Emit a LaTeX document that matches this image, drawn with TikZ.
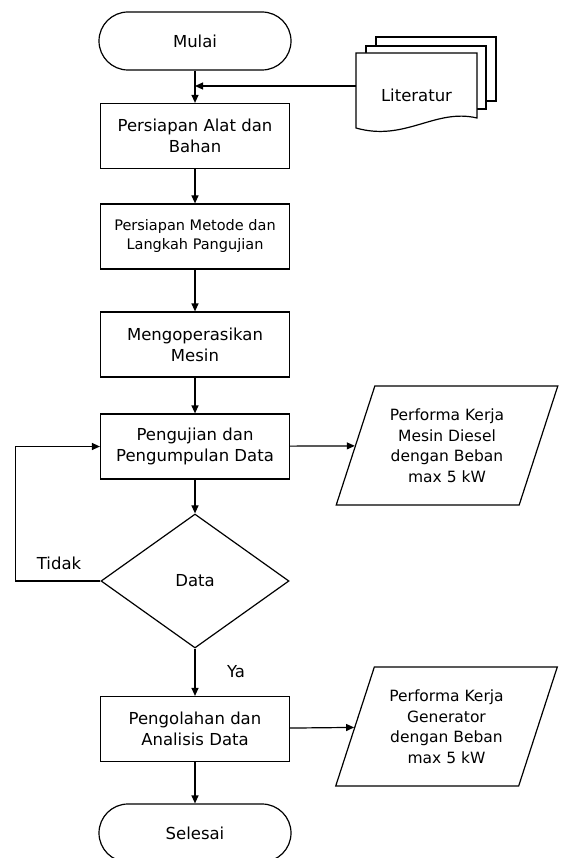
\documentclass[tikz,border=0pt]{standalone}
\usepackage{fontspec}
\setmainfont{DejaVu Sans}
\usetikzlibrary{arrows.meta}
\usetikzlibrary{shapes.geometric}

\begin{document}
\begin{tikzpicture}[x=1pt,y=-1pt,
                line width=1.2pt,
                >={Triangle[length=8pt,width=7pt]},
                font=\fontsize{16.5}{21}\selectfont,
                process/.style={draw,rectangle,minimum width=189pt,minimum height=65pt,align=center,inner sep=2pt},
                startstop/.style={draw,rectangle,rounded corners=29pt,minimum width=192pt,minimum height=58pt},
                decision/.style={draw,diamond,minimum width=188pt,minimum height=134pt,inner sep=0pt},
                io/.style={draw,trapezium,trapezium left angle=68,trapezium right angle=112,trapezium stretches=true,
                    minimum width=222pt,minimum height=119pt,align=center,font=\fontsize{15.5}{20.5}\selectfont},
                page/.style={draw,fill=white}
                ]
            \useasboundingbox (0,0) rectangle (560,858);

            \node[startstop] (mulai) at (195,41) {Mulai};
            \node[process] (alat) at (195,136) {Persiapan Alat dan\\Bahan};
            \node[process,font=\fontsize{14.5}{19}\selectfont] (metode) at (195,236.5) {Persiapan Metode dan\\Langkah Pangujian};
            \node[process] (operasi) at (195,344.5) {Mengoperasikan\\Mesin};
            \node[process] (uji) at (195,446.5) {Pengujian dan\\Pengumpulan Data};
            \node[decision] (data) at (195,581) {Data};
            \node[process] (olah) at (195,729) {Pengolahan dan\\Analisis Data};
            \node[startstop] (selesai) at (195,833) {Selesai};

            \node[io] (mesin) at (447,445.5) {Performa Kerja\\Mesin Diesel\\dengan Beban\\max 5 kW};
            \node[io] (gen) at (446.5,726.5) {Performa Kerja\\Generator\\dengan Beban\\max 5 kW};

            % tumpukan dokumen literatur
            \draw[page] (376,37) rectangle (496,101);
            \draw[page] (366,46) rectangle (486,109);
            \draw[page] (356,53) -- (477,53) -- (477,118) .. controls (435,108) and (405,142) .. (356,128) -- cycle;
            \node (lit) at (416.5,95) {Literatur};
            \coordinate (litin) at (356,86);
            \coordinate (join) at (195,86);

            \node (tidak) at (59,563) {Tidak};
            \node (ya) at (236,672) {Ya};

            \draw[->] (mulai) to (alat);
            \draw[->] (litin) to (join);
            \draw[->] (alat) to (metode);
            \draw[->] (metode) to (operasi);
            \draw[->] (operasi) to (uji);
            \draw[->] (uji) to (data);
            \draw[->] (uji) to (mesin);

            \draw[->] (data.west) -- ++(-85,0) |- (uji.west);
            \draw[->] (data) to (olah);
            \draw[->] (olah) to (gen);
            \draw[->] (olah) to (selesai);

            \end{tikzpicture}
\end{document}
